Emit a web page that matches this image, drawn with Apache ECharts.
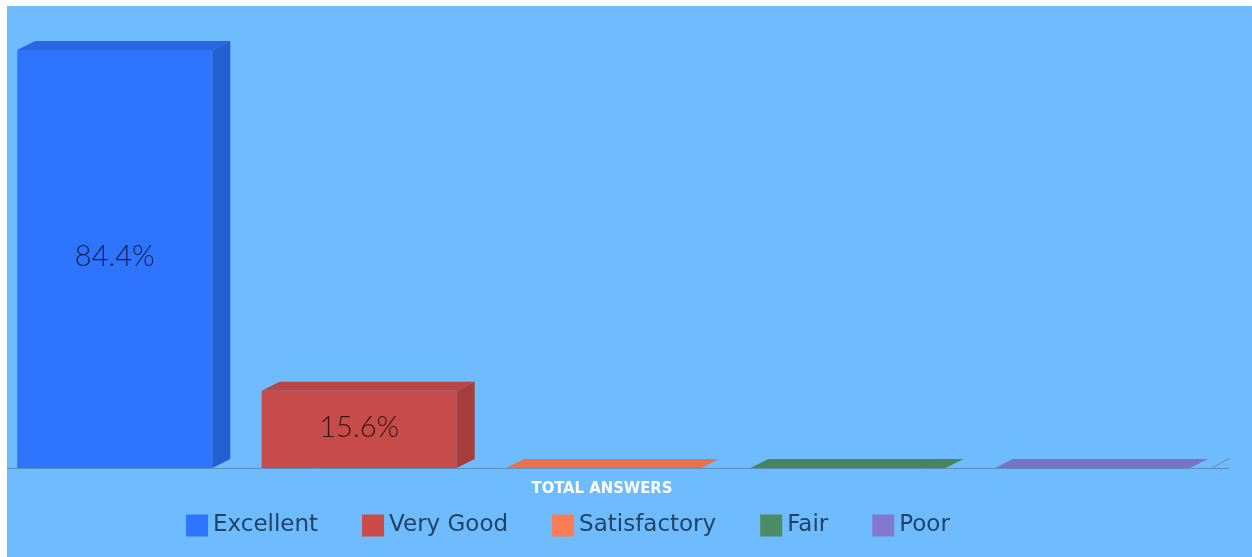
<!DOCTYPE html>
<html><head><meta charset="utf-8">
<script src="https://cdn.jsdelivr.net/npm/echarts@6/dist/echarts.min.js"></script>
<style>html,body{margin:0;padding:0;background:#fff;}#c{position:absolute;left:7px;top:6px;width:1245px;height:551px;background:#6ebbfd;}</style>
</head><body><div id="c"></div>
<script>
const categories = ['Excellent', 'Very Good', 'Satisfactory', 'Fair', 'Poor'];
const values = [84.4, 15.6, 0, 0, 0];
const axisTitle = 'TOTAL ANSWERS';
const frontColors = ['#2e74fe', '#c84b4b', '#f07650', '#4a8a63', '#7c76c6'];
const sideColors = ['#2560d2', '#a83d3d', '#d8643f', '#3d7553', '#6863ad'];
const topColors = ['#2767e2', '#b94444', '#e8704c', '#468560', '#7873c3'];
const legendColors = ['#2e74fe', '#cb4b4b', '#fd7c55', '#4a8c63', '#8378d0'];

const chart = echarts.init(document.getElementById('c'));
function makeRender(i){
  return function(params, api){
    const cx = api.coord([api.value(0), 0])[0];
    const y0 = api.coord([api.value(0), 0])[1];
    const y1 = api.coord([api.value(0), api.value(1)])[1];
    const bw = api.size([1, 0])[0];
    const fl = cx - bw * 0.458, fr = cx + bw * 0.34;
    const dx = 18, dy = 9;
    const ch = [];
    if (y0 - y1 > 0.5) {
      ch.push({type:'rect', shape:{x:fl, y:y1, width:fr-fl, height:y0-y1}, style:{fill:frontColors[i]}});
      ch.push({type:'polygon', shape:{points:[[fr,y1],[fr+dx,y1-dy],[fr+dx,y0-dy],[fr,y0]]}, style:{fill:sideColors[i]}});
    }
    ch.push({type:'polygon', shape:{points:[[fl,y1],[fl+dx,y1-dy],[fr+dx,y1-dy],[fr,y1]]}, style:{fill:topColors[i]}});
    if (api.value(1) > 0) {
      ch.push({type:'text', x:(fl+fr)/2, y:(y0+y1)/2 - 2, style:{text: api.value(1).toFixed(1)+'%', fill:'rgba(0,0,0,0.72)', font:'300 29px Lato, "Open Sans", sans-serif', align:'center', verticalAlign:'middle'}});
    }
    return {type:'group', children: ch};
  };
}
const series = categories.map((c, i) => ({
  name: c, type: 'custom', renderItem: makeRender(i),
  itemStyle: {color: legendColors[i]},
  data: [[i, values[i]]]
}));
chart.setOption({
  animation: false,
  grid: {left: 0, top: 44, width: 1222, bottom: 89, containLabel: false},
  xAxis: {type: 'category', data: categories, axisLine: {show: true, lineStyle: {color: '#5b8fbe', width: 1}},
    axisTick: {show: false}, axisLabel: {show: false},
    name: axisTitle, nameLocation: 'middle', nameGap: 12,
    nameTextStyle: {color: '#ffffff', fontWeight: 'bold', fontSize: 16.5, fontFamily: '"DejaVu Sans Condensed", sans-serif', padding: [0, 32, 0, 0]}},
  yAxis: {type: 'value', min: 0, max: v => v.max, show: false, splitLine: {show: false}},
  legend: {left: 174, top: 503, itemWidth: 22, itemHeight: 22, itemGap: 44, icon: 'rect',
    textStyle: {color: '#1f4468', fontSize: 23, fontFamily: '"DejaVu Sans", sans-serif'},
    data: categories},
  graphic: [{type: 'line', shape: {x1: 1205, y1: 462, x2: 1223, y2: 452}, style: {stroke: '#5b8fbe', lineWidth: 1}}],
  series: series
});
</script></body></html>
